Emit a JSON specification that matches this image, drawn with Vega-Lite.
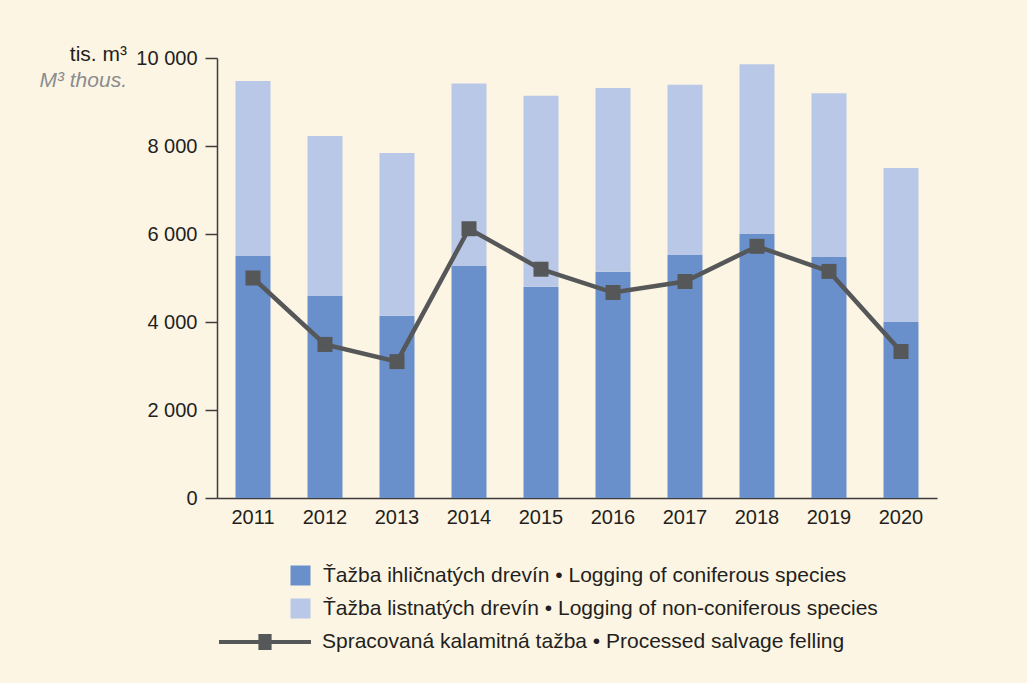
{
  "$schema": "https://vega.github.io/schema/vega-lite/v6.json",
  "width": 720,
  "height": 440,
  "autosize": {"type": "none"},
  "padding": {"left": 217, "top": 58, "right": 90, "bottom": 185},
  "background": "#fdf5e4",
  "config": {
    "font": "Liberation Sans",
    "view": {"stroke": null},
    "axis": {
      "labelFont": "Liberation Sans",
      "labelFontSize": 20,
      "labelColor": "#231f20",
      "domainColor": "#3d3d3d",
      "domainWidth": 1.5,
      "tickColor": "#3d3d3d",
      "tickWidth": 1.5,
      "grid": false,
      "title": null
    },
    "legend": {
      "labelFont": "Liberation Sans",
      "labelFontSize": 21,
      "labelColor": "#231f20",
      "padding": 0,
      "labelLimit": 800
    }
  },
  "title": {
    "text": "tis. m³",
    "subtitle": "M³ thous.",
    "anchor": "start",
    "frame": "group",
    "align": "right",
    "dx": -90,
    "offset": -43,
    "font": "Liberation Sans",
    "fontSize": 21,
    "fontWeight": "normal",
    "color": "#231f20",
    "subtitleFont": "Liberation Sans",
    "subtitleFontSize": 21,
    "subtitleFontStyle": "italic",
    "subtitleColor": "#8a8c8e",
    "subtitlePadding": 5
  },
  "datasets": {
    "bars": [
      {"rok": "2011", "druh": "Ťažba ihličnatých drevín • Logging of coniferous species", "objem": 5500},
      {"rok": "2011", "druh": "Ťažba listnatých drevín • Logging of non-coniferous species", "objem": 3980},
      {"rok": "2012", "druh": "Ťažba ihličnatých drevín • Logging of coniferous species", "objem": 4590},
      {"rok": "2012", "druh": "Ťažba listnatých drevín • Logging of non-coniferous species", "objem": 3640},
      {"rok": "2013", "druh": "Ťažba ihličnatých drevín • Logging of coniferous species", "objem": 4140},
      {"rok": "2013", "druh": "Ťažba listnatých drevín • Logging of non-coniferous species", "objem": 3700},
      {"rok": "2014", "druh": "Ťažba ihličnatých drevín • Logging of coniferous species", "objem": 5270},
      {"rok": "2014", "druh": "Ťažba listnatých drevín • Logging of non-coniferous species", "objem": 4150},
      {"rok": "2015", "druh": "Ťažba ihličnatých drevín • Logging of coniferous species", "objem": 4800},
      {"rok": "2015", "druh": "Ťažba listnatých drevín • Logging of non-coniferous species", "objem": 4340},
      {"rok": "2016", "druh": "Ťažba ihličnatých drevín • Logging of coniferous species", "objem": 5140},
      {"rok": "2016", "druh": "Ťažba listnatých drevín • Logging of non-coniferous species", "objem": 4180},
      {"rok": "2017", "druh": "Ťažba ihličnatých drevín • Logging of coniferous species", "objem": 5520},
      {"rok": "2017", "druh": "Ťažba listnatých drevín • Logging of non-coniferous species", "objem": 3870},
      {"rok": "2018", "druh": "Ťažba ihličnatých drevín • Logging of coniferous species", "objem": 6000},
      {"rok": "2018", "druh": "Ťažba listnatých drevín • Logging of non-coniferous species", "objem": 3860},
      {"rok": "2019", "druh": "Ťažba ihličnatých drevín • Logging of coniferous species", "objem": 5480},
      {"rok": "2019", "druh": "Ťažba listnatých drevín • Logging of non-coniferous species", "objem": 3720},
      {"rok": "2020", "druh": "Ťažba ihličnatých drevín • Logging of coniferous species", "objem": 4000},
      {"rok": "2020", "druh": "Ťažba listnatých drevín • Logging of non-coniferous species", "objem": 3500}
    ],
    "salvage": [
      {"rok": "2011", "objem": 5000},
      {"rok": "2012", "objem": 3490},
      {"rok": "2013", "objem": 3100},
      {"rok": "2014", "objem": 6120},
      {"rok": "2015", "objem": 5200},
      {"rok": "2016", "objem": 4670},
      {"rok": "2017", "objem": 4920},
      {"rok": "2018", "objem": 5720},
      {"rok": "2019", "objem": 5150},
      {"rok": "2020", "objem": 3330}
    ]
  },
  "layer": [
    {
      "data": {"name": "bars"},
      "mark": {"type": "bar"},
      "encoding": {
        "x": {
          "field": "rok",
          "type": "ordinal",
          "scale": {"paddingInner": 0.514, "paddingOuter": 0.257},
          "axis": {"labelAngle": 0, "ticks": false, "labelPadding": 9}
        },
        "y": {
          "field": "objem",
          "type": "quantitative",
          "stack": "zero",
          "scale": {"domain": [0, 10000], "nice": false},
          "axis": {
            "values": [0, 2000, 4000, 6000, 8000, 10000],
            "tickSize": 12,
            "labelPadding": 8,
            "labelExpr": "replace(format(datum.value, ','), ',', ' ')"
          }
        },
        "color": {
          "field": "druh",
          "type": "nominal",
          "scale": {
            "domain": [
              "Ťažba ihličnatých drevín • Logging of coniferous species",
              "Ťažba listnatých drevín • Logging of non-coniferous species"
            ],
            "range": ["#6990cb", "#b9c8e6"]
          },
          "legend": {
            "title": null,
            "orient": "none",
            "legendX": 73,
            "legendY": 507,
            "symbolType": "square",
            "symbolSize": 400,
            "symbolStrokeWidth": 0,
            "rowPadding": 11,
            "labelOffset": 12
          }
        },
        "order": {"field": "druh", "sort": "ascending"}
      }
    },
    {
      "data": {"name": "salvage"},
      "mark": {"type": "line", "strokeWidth": 4.5},
      "encoding": {
        "x": {"field": "rok", "type": "ordinal"},
        "y": {"field": "objem", "type": "quantitative"},
        "stroke": {
          "datum": "Spracovaná kalamitná tažba • Processed salvage felling",
          "type": "nominal",
          "scale": {"range": ["#555759"]},
          "legend": {
            "title": null,
            "orient": "none",
            "legendX": 0,
            "legendY": 536,
            "symbolType": "M-1,0H1M-0.1,-0.13H0.1V0.13H-0.1Z",
            "symbolSize": 8464,
            "symbolStrokeWidth": 4,
            "symbolFillColor": "#555759",
            "labelOffset": 9
          }
        }
      }
    },
    {
      "data": {"name": "salvage"},
      "mark": {"type": "point", "shape": "square", "filled": true, "size": 225, "color": "#555759", "opacity": 1},
      "encoding": {
        "x": {"field": "rok", "type": "ordinal"},
        "y": {"field": "objem", "type": "quantitative"}
      }
    }
  ]
}
